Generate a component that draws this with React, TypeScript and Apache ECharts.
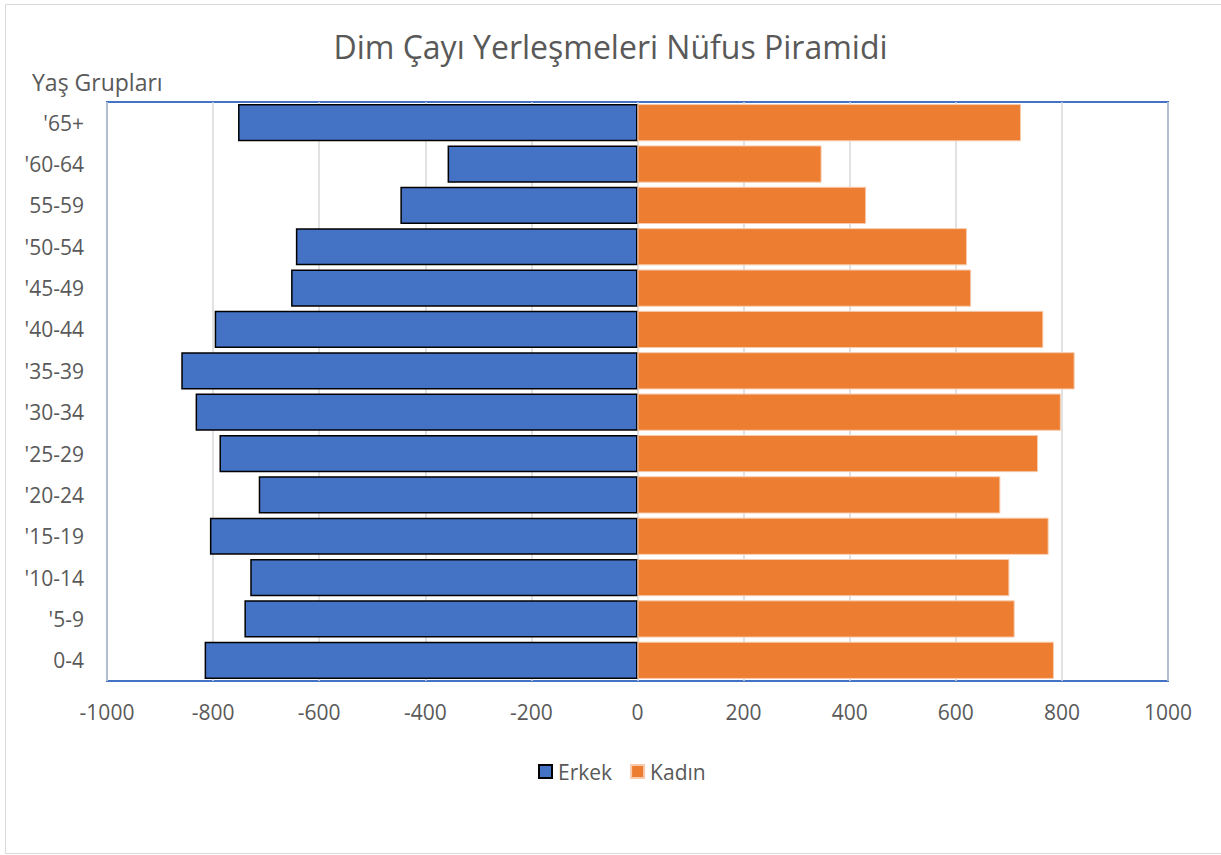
import React, { useEffect, useRef } from "react";
import * as echarts from "echarts";

const categories = ["0-4", "'5-9", "'10-14", "'15-19", "'20-24", "'25-29", "'30-34", "'35-39", "'40-44", "'45-49", "'50-54", "55-59", "'60-64", "'65+"];
const erkek = [816, 741, 730, 806, 714, 788, 833, 860, 797, 653, 644, 447, 358, 753];
const kadin = [785, 711, 701, 775, 684, 755, 798, 824, 765, 629, 621, 431, 347, 723];
const xTicks = { min: -1000, max: 1000, interval: 200 };

const FONT = "'Open Sans', 'Noto Sans', sans-serif";
const TXT = "#595959";

export default function App() {
  const ref = useRef<HTMLDivElement>(null);
  useEffect(() => {
    if (!ref.current) return;
    const chart = echarts.init(ref.current, undefined, { renderer: "svg" });
    chart.setOption({
      animation: false,
      backgroundColor: "#ffffff",
      textStyle: { fontFamily: FONT, color: TXT },
      title: {
        text: "Dim Çayı Yerleşmeleri Nüfus Piramidi",
        left: "center",
        top: 25,
        textStyle: { fontFamily: FONT, fontSize: 32, fontWeight: "normal", color: TXT },
      },
      graphic: [
        {
          type: "rect",
          shape: { x: 5.5, y: 4.5, width: 1240, height: 849 },
          style: { fill: "none", stroke: "#d9d9d9", lineWidth: 1 },
          silent: true,
        },
        {
          type: "text",
          left: 32,
          top: 70,
          style: { text: "Yaş Grupları", font: `23px ${FONT}`, fill: TXT },
        },
      ],
      legend: {
        data: ["Erkek", "Kadın"],
        left: 533,
        top: 756,
        icon: "rect",
        itemWidth: 13,
        itemHeight: 13,
        itemGap: 18,
        textStyle: { fontFamily: FONT, fontSize: 21, color: TXT, padding: [0, 0, 0, 1] },
      },
      grid: {
        left: 107,
        right: 53,
        top: 102,
        bottom: 174,
        show: true,
        borderColor: "#4472C4",
        borderWidth: 2,
        containLabel: false,
      },
      xAxis: {
        type: "value",
        min: xTicks.min,
        max: xTicks.max,
        interval: xTicks.interval,
        axisLine: { show: false },
        axisTick: { show: false },
        axisLabel: { fontFamily: FONT, fontSize: 21, color: TXT, margin: 20, formatter: (v: number) => String(v) },
        splitLine: { show: true, lineStyle: { color: "#d9d9d9", width: 1.5 } },
      },
      yAxis: {
        type: "category",
        data: categories,
        position: "left",
        axisLine: { show: false, onZero: false },
        axisTick: { show: false },
        axisLabel: { fontFamily: FONT, fontSize: 21, color: TXT, margin: 23 },
        splitLine: { show: false },
      },
      series: [
        {
          name: "Erkek",
          type: "bar",
          data: erkek.map((v) => -v),
          barCategoryGap: "10%",
          barGap: "-100%",
          itemStyle: { color: "#4472C4", borderColor: "#000000", borderWidth: 1.5 },
        },
        {
          name: "Kadın",
          type: "bar",
          data: kadin,
          barCategoryGap: "10%",
          barGap: "-100%",
          itemStyle: { color: "#ED7D31", borderColor: "#F8CBAD", borderWidth: 1 },
        },
      ],
    });
    return () => chart.dispose();
  }, []);
  return (
    <div
      ref={ref}
      style={{ position: "absolute", left: 0, top: 0, width: 1221, height: 855 }}
    />
  );
}
